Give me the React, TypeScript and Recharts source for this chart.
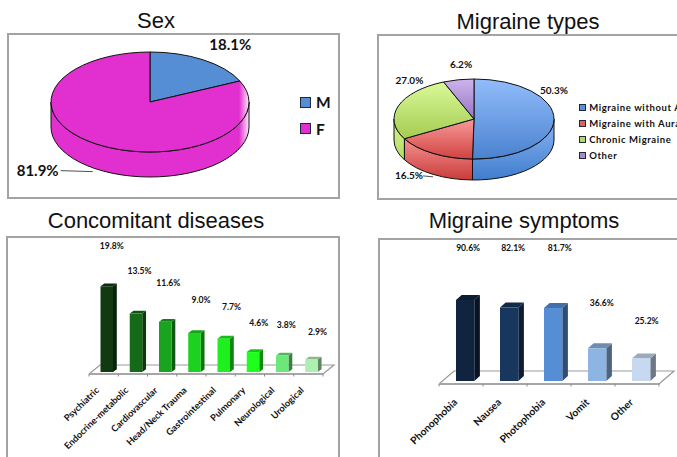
import React from 'react';
import { PieChart, Pie, Cell, Legend, BarChart, Bar, XAxis, YAxis, LabelList, usePlotArea } from 'recharts';

// Survey percentages shown in the four panels
const sexNames = ['M', 'F'];
const sexValues = [18.1, 81.9];
const typeNames = ['Migraine without Aura', 'Migraine with Aura', 'Chronic Migraine', 'Other'];
const typeValues = [50.3, 16.5, 27.0, 6.2];
const diseaseNames = ['Psychiatric', 'Endocrine-metabolic', 'Cardiovascular', 'Head/Neck Trauma', 'Gastrointestinal', 'Pulmonary', 'Neurological', 'Urological'];
const diseaseValues = [19.8, 13.5, 11.6, 9.0, 7.7, 4.6, 3.8, 2.9];
const symptomNames = ['Phonophobia', 'Nausea', 'Photophobia', 'Vomit', 'Other'];
const symptomValues = [90.6, 82.1, 81.7, 36.6, 25.2];

const toRows = (names: string[], values: number[]) => names.map((name, i) => ({ name, value: values[i] }));

const FONT = 'Lato, sans-serif';
const TITLE_FONT = '"Liberation Sans", Arial, sans-serif';
const BORDER = '#a3a3a3';

// Colour pairs run from the light top of a face to its darker lower edge
const sexColors = ['#558ed5', '#e22fd0'];
const typeLegendColors = ['#5b90dc', '#e0605e', '#b3d868', '#a98ad0'];
const typeFaces = [['#92bcfb', '#4a82cf'], ['#f99a98', '#cf4341'], ['#daf99a', '#a5cc50'], ['#cdb4ec', '#9674c4']];
const typeWalls = [['#8ab5f5', '#3f7dcc'], ['#f59290', '#c93c3a'], ['#d5f590', '#b4dc60'], ['#cdb4ec', '#9674c4']];
const diseaseColors = ['#123a10', '#156a18', '#1aa31e', '#1dd120', '#1ef01e', '#1eff1e', '#6ce87a', '#adf0b0'];
const symptomColors = ['#10243f', '#17375e', '#558ed5', '#8eb4e3', '#c6d9f1'];

const shade = (hex: string, f: number) => {
  const n = parseInt(hex.slice(1), 16);
  const c = [n >> 16, (n >> 8) & 255, n & 255].map((v) => Math.round(v * f));
  return `rgb(${c.join(',')})`;
};

type Pt = [number, number];

// Elliptical pie slice with a wall below the front rim
function tiltedSlice(p: any, tilt: number, depth: number, id: string, topFill: string, wallFill: string, defs: React.ReactNode) {
  const { cx, cy, outerRadius: rx, startAngle, endAngle } = p;
  const ry = rx * tilt;
  const at = (deg: number): Pt => {
    const a = (deg * Math.PI) / 180;
    return [cx + rx * Math.cos(a), cy - ry * Math.sin(a)];
  };
  const hi = Math.max(startAngle, endAngle);
  const lo = Math.min(startAngle, endAngle);
  const [sx, sy] = at(hi);
  const [ex, ey] = at(lo);
  const large = hi - lo > 180 ? 1 : 0;
  const top = `M${cx},${cy} L${sx},${sy} A${rx},${ry} 0 ${large} 1 ${ex},${ey} Z`;
  const wallHi = Math.min(hi, 0);
  const wallLo = Math.max(lo, -180);
  let wall = '';
  if (wallLo < wallHi) {
    const [ax, ay] = at(wallHi);
    const [bx, by] = at(wallLo);
    wall = `M${ax},${ay} A${rx},${ry} 0 0 1 ${bx},${by} L${bx},${by + depth} A${rx},${ry} 0 0 0 ${ax},${ay + depth} Z`;
  }
  return (
    <g key={id}>
      <defs>{defs}</defs>
      {wall && <path d={wall} fill={wallFill} stroke="#111" strokeWidth={1} />}
      <path d={top} fill={topFill} stroke="#111" strokeWidth={1} />
    </g>
  );
}

const SexSlice = (p: any) => {
  const i = p.index;
  const id = `sex-${i}`;
  const fill = i === 1 ? `url(#${id})` : sexColors[i];
  return tiltedSlice(p, 0.505, 25, id, fill, fill,
    <linearGradient id={id} gradientUnits="userSpaceOnUse" x1={p.cx - p.outerRadius} x2={p.cx + p.outerRadius} y1={0} y2={0}>
      <stop offset="0.95" stopColor={sexColors[1]} />
      <stop offset="1" stopColor="#fde9fa" />
    </linearGradient>
  );
};

const TypeSlice = (p: any) => {
  const i = p.index;
  const top = `type-top-${i}`;
  const wall = `type-wall-${i}`;
  return tiltedSlice(p, 0.5, 21, top, `url(#${top})`, `url(#${wall})`,
    <>
      <linearGradient id={top} x1="0" x2="0" y1="0" y2="1">
        <stop offset="0" stopColor={typeFaces[i][0]} />
        <stop offset="1" stopColor={typeFaces[i][1]} />
      </linearGradient>
      <linearGradient id={wall} x1="0" x2="0" y1="0" y2="1">
        <stop offset="0" stopColor={typeWalls[i][0]} />
        <stop offset="1" stopColor={typeWalls[i][1]} />
      </linearGradient>
    </>
  );
};

// Percentage beside a slice, placed from the slice's mid-angle on the rim
const pieLabel = (tilt: number, size: number, nudges: Pt[], leaders: Record<number, Pt>) => (p: any) => {
  const a = (p.midAngle * Math.PI) / 180;
  const x = p.cx + p.outerRadius * Math.cos(a) + nudges[p.index][0];
  const y = p.cy - p.outerRadius * tilt * Math.sin(a) + nudges[p.index][1];
  const leader = leaders[p.index];
  return (
    <g>
      <text x={x} y={y} textAnchor="middle" dominantBaseline="central" fontFamily={FONT} fontWeight={700} fontSize={size} fill="#111">
        {`${p.value.toFixed(1)}%`}
      </text>
      {leader && <line x1={x + leader[0]} y1={y + 0.5} x2={x + leader[1]} y2={y + 1.5} stroke="#222" strokeWidth={0.8} />}
    </g>
  );
};

const pieLegend = (size: number, spacing: number, swatch: number, pitch: number, colors: string[]) => (props: any) => (
  <div style={{ fontFamily: FONT, fontWeight: 700, fontSize: size, letterSpacing: spacing, color: '#111', whiteSpace: 'nowrap' }}>
    {(props.payload || []).map((row: any, i: number) => (
      <div key={row.value} style={{ display: 'flex', alignItems: 'center', height: pitch }}>
        <span style={{ width: swatch, height: swatch, background: colors[i], border: '1px solid #1c2a3a', boxSizing: 'border-box', marginRight: swatch * 0.45, flex: 'none' }} />
        {row.value}
      </div>
    ))}
  </div>
);

const Panel = ({ x, y, w, h, openRight, openBottom, title, titleX, titleY, children }: any) => (
  <>
    <div style={{ position: 'absolute', left: titleX - 150, top: titleY, width: 300, textAlign: 'center', fontFamily: TITLE_FONT, fontSize: 22, lineHeight: '26px', color: '#111' }}>{title}</div>
    <div style={{ position: 'absolute', left: x, top: y, width: w, height: h, overflow: 'hidden' }}>
      <div style={{ position: 'absolute', left: 0, top: 0, width: w + (openRight ? 4 : 0), height: h + (openBottom ? 4 : 0), boxSizing: 'border-box', border: `2px solid ${BORDER}` }} />
      <div style={{ position: 'absolute', left: 0, top: 0 }}>{children}</div>
    </div>
  </>
);

// Receding floor plane under the columns, with tick marks along its front edge
const Floor = ({ count, back, drop }: { count: number; back: Pt; drop: number }) => {
  const plot = usePlotArea();
  if (!plot) return null;
  const y = plot.y + plot.height + drop;
  const l = plot.x;
  const r = plot.x + plot.width;
  const marks = Array.from({ length: count + 1 }, (_, i) => l + (i * plot.width) / count);
  return (
    <g>
      <path d={`M${l},${y} L${l + back[0]},${y + back[1]} L${r + back[0]},${y + back[1]} L${r},${y}`} fill="#fff" stroke="#999" strokeWidth={1.2} />
      <line x1={l} y1={y} x2={r} y2={y} stroke="#a6a6a6" strokeWidth={2} />
      {marks.map((m) => <line key={m} x1={m} y1={y} x2={m} y2={y + 2.5} stroke="#888" strokeWidth={1} />)}
    </g>
  );
};

const columnShape = (colors: string[], shift: number, dx: number, dy: number) => (p: any) => {
  const x = p.x + shift;
  const { y, width: w, height: h, index } = p;
  const c = colors[index];
  return (
    <g>
      <path d={`M${x + w},${y} l${dx},${-dy} v${h} l${-dx},${dy} Z`} fill={shade(c, 0.55)} />
      <path d={`M${x},${y} l${dx},${-dy} h${w} l${-dx},${dy} Z`} fill={shade(c, 0.78)} />
      <rect x={x} y={y} width={w} height={h} fill={c} />
    </g>
  );
};

const columnLabel = (shift: number, size: number, offsets: Pt[]) => (p: any) => {
  const o = offsets[p.index];
  return (
    <text x={p.x + p.width / 2 + shift + o[0]} y={p.y - o[1]} textAnchor="middle" dominantBaseline="central" fontFamily={FONT} fontWeight={700} fontSize={size} fill="#111">
      {`${Number(p.value).toFixed(1)}%`}
    </text>
  );
};

const slantedTick = (size: number, dx: number, dy: number) => (p: any) => (
  <text
    x={p.x + dx}
    y={p.y + dy}
    textAnchor="end"
    transform={`rotate(-44 ${p.x + dx} ${p.y + dy})`}
    fontFamily={FONT}
    fontWeight={700}
    fontSize={size}
    fill="#111"
  >
    {p.payload.value}
  </text>
);

// Horizontal shift and lift of each column's value text
const diseaseOffsets: Pt[] = [[5, 40], [3.5, 43], [3, 39], [6.5, 33], [7.7, 32], [5.7, 29], [4, 31], [6, 27]];
const symptomOffsets: Pt[] = [[3, 52], [4, 60], [6.7, 60], [4.7, 45], [5.5, 37]];

export default function App() {
  return (
    <div style={{ position: 'absolute', left: 0, top: 0, width: 677, height: 457, overflow: 'hidden', background: '#fff' }}>
      <Panel x={7} y={33} w={333} h={166} title="Sex" titleX={156} titleY={8}>
        <PieChart width={333} height={166} margin={{ top: 0, right: 0, bottom: 0, left: 0 }}>
          <Pie
            data={toRows(sexNames, sexValues)}
            dataKey="value"
            nameKey="name"
            cx={143}
            cy={69}
            outerRadius={99}
            startAngle={90}
            endAngle={-270}
            isAnimationActive={false}
            shape={SexSlice}
            labelLine={false}
            label={pieLabel(0.505, 15, [[27, -16], [-59, 26]], { 1: [23, 55] })}
          >
            {sexNames.map((n, i) => <Cell key={n} fill={sexColors[i]} />)}
          </Pie>
          <Legend itemSorter={null} layout="vertical" align="right" verticalAlign="top" wrapperStyle={{ left: 293, top: 56, width: 40 }} content={pieLegend(15.5, 0, 11, 26.5, sexColors)} />
        </PieChart>
      </Panel>

      <Panel x={377} y={34} w={300} h={166} openRight title="Migraine types" titleX={528} titleY={9}>
        <PieChart width={300} height={166} margin={{ top: 0, right: 0, bottom: 0, left: 0 }}>
          <Pie
            data={toRows(typeNames, typeValues)}
            dataKey="value"
            nameKey="name"
            cx={97}
            cy={85}
            outerRadius={80}
            startAngle={90}
            endAngle={-270}
            isAnimationActive={false}
            shape={TypeSlice}
            labelLine={false}
            label={pieLabel(0.5, 10, [[0, -29], [-24, 22], [11, -26], [2.5, -16]], { 1: [14, 24] })}
          >
            {typeNames.map((n, i) => <Cell key={n} fill={typeLegendColors[i]} />)}
          </Pie>
          <Legend itemSorter={null} layout="vertical" align="right" verticalAlign="top" wrapperStyle={{ left: 202, top: 65, width: 110 }} content={pieLegend(9.5, 0.6, 7, 16, typeLegendColors)} />
        </PieChart>
      </Panel>

      <Panel x={6} y={236} w={334} h={221} openBottom title="Concomitant diseases" titleX={156} titleY={208}>
        <BarChart width={334} height={221} data={toRows(diseaseNames, diseaseValues)} margin={{ top: 10, right: 17, bottom: 0, left: 83 }}>
          <Floor count={diseaseNames.length} back={[11, -9]} drop={2} />
          <XAxis dataKey="name" interval={0} height={85} axisLine={false} tickLine={false} tick={slantedTick(9.2, -4, 11)} />
          <YAxis hide domain={[0, 29.1]} />
          <Bar dataKey="value" barSize={12.5} isAnimationActive={false} shape={columnShape(diseaseColors, 3.5, 3.8, 2.8)}>
            <LabelList dataKey="value" content={columnLabel(3.5, 8.6, diseaseOffsets)} />
          </Bar>
        </BarChart>
      </Panel>

      <Panel x={378} y={238} w={299} h={219} openRight openBottom title="Migraine symptoms" titleX={524} titleY={208}>
        <BarChart width={299} height={219} data={toRows(symptomNames, symptomValues)} margin={{ top: 10, right: 18, bottom: 0, left: 61 }}>
          <Floor count={symptomNames.length} back={[15, -13]} drop={3} />
          <XAxis dataKey="name" interval={0} height={76} axisLine={false} tickLine={false} tick={slantedTick(10.2, -3, 14)} />
          <YAxis hide domain={[0, 148.6]} />
          <Bar dataKey="value" barSize={18.3} isAnimationActive={false} shape={columnShape(symptomColors, 4, 5.6, 5)}>
            <LabelList dataKey="value" content={columnLabel(4, 8.6, symptomOffsets)} />
          </Bar>
        </BarChart>
      </Panel>
    </div>
  );
}
